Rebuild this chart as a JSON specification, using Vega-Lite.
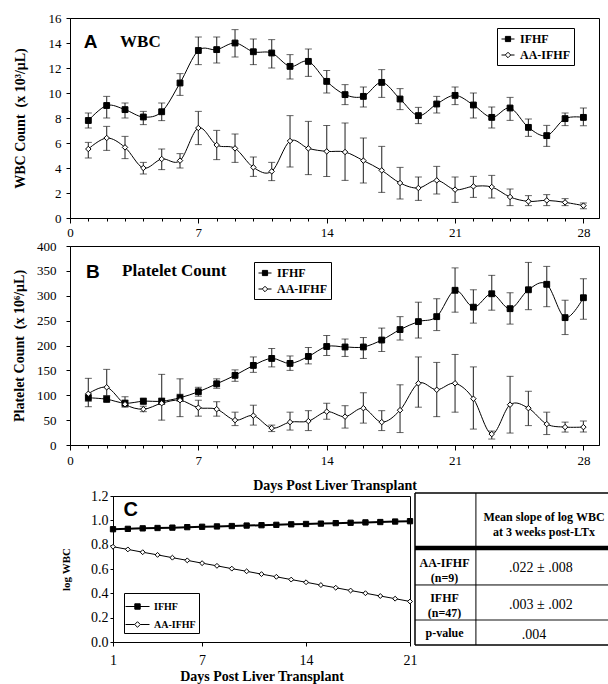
{
"$schema": "https://vega.github.io/schema/vega-lite/v6.json",
"padding": {"left": 12, "top": 11, "right": 0, "bottom": 0},
"autosize": {"type": "pad"},
"config": {
  "view": {"stroke": "black", "strokeWidth": 1},
  "font": "Liberation Serif",
  "axis": {"labelFont": "Liberation Serif", "titleFont": "Liberation Serif", "labelColor": "black", "titleColor": "black", "tickColor": "black", "domainColor": "black", "grid": false, "titleFontWeight": "bold", "labelFontSize": 13, "titleFontSize": 14, "tickSize": 4, "labelFlush": false, "labelOverlap": false},
  "legend": {"title": null, "orient": "none", "strokeColor": "black", "fillColor": "white", "labelFont": "Liberation Serif", "labelFontWeight": "bold", "labelColor": "black", "symbolStrokeColor": "black", "symbolStrokeWidth": 1, "symbolOpacity": 1}
},
"datasets": {
"wbc": [
{"day":1,"group":"IFHF","mean":7.8,"lo":7.2,"hi":8.4},
{"day":2,"group":"IFHF","mean":9.0,"lo":8.0,"hi":9.73},
{"day":3,"group":"IFHF","mean":8.67,"lo":8.0,"hi":9.2},
{"day":4,"group":"IFHF","mean":8.08,"lo":7.47,"hi":8.53},
{"day":5,"group":"IFHF","mean":8.5,"lo":7.79,"hi":9.2},
{"day":6,"group":"IFHF","mean":10.8,"lo":9.81,"hi":11.55},
{"day":7,"group":"IFHF","mean":13.4,"lo":12.27,"hi":14.48},
{"day":8,"group":"IFHF","mean":13.47,"lo":12.4,"hi":14.48},
{"day":9,"group":"IFHF","mean":14.0,"lo":12.88,"hi":15.07},
{"day":10,"group":"IFHF","mean":13.3,"lo":12.27,"hi":14.32},
{"day":11,"group":"IFHF","mean":13.2,"lo":12.0,"hi":14.27},
{"day":12,"group":"IFHF","mean":12.13,"lo":11.12,"hi":13.07},
{"day":13,"group":"IFHF","mean":12.53,"lo":11.33,"hi":13.52},
{"day":14,"group":"IFHF","mean":10.93,"lo":10.0,"hi":11.81},
{"day":15,"group":"IFHF","mean":9.87,"lo":9.07,"hi":10.67},
{"day":16,"group":"IFHF","mean":9.73,"lo":8.88,"hi":10.48},
{"day":17,"group":"IFHF","mean":10.85,"lo":9.65,"hi":11.87},
{"day":18,"group":"IFHF","mean":9.52,"lo":8.67,"hi":10.35},
{"day":19,"group":"IFHF","mean":8.19,"lo":7.55,"hi":8.85},
{"day":20,"group":"IFHF","mean":9.12,"lo":8.4,"hi":9.73},
{"day":21,"group":"IFHF","mean":9.81,"lo":9.07,"hi":10.48},
{"day":22,"group":"IFHF","mean":9.04,"lo":8.0,"hi":10.0},
{"day":23,"group":"IFHF","mean":8.05,"lo":7.2,"hi":8.88},
{"day":24,"group":"IFHF","mean":8.8,"lo":7.81,"hi":9.65},
{"day":25,"group":"IFHF","mean":7.25,"lo":6.53,"hi":7.92},
{"day":26,"group":"IFHF","mean":6.59,"lo":5.73,"hi":7.41},
{"day":27,"group":"IFHF","mean":7.95,"lo":7.39,"hi":8.4},
{"day":28,"group":"IFHF","mean":8.05,"lo":7.39,"hi":8.8},
{"day":1,"group":"AA-IFHF","mean":5.52,"lo":4.8,"hi":6.05},
{"day":2,"group":"AA-IFHF","mean":6.4,"lo":5.41,"hi":7.33},
{"day":3,"group":"AA-IFHF","mean":5.65,"lo":4.75,"hi":6.53},
{"day":4,"group":"AA-IFHF","mean":4.0,"lo":3.52,"hi":4.45},
{"day":5,"group":"AA-IFHF","mean":4.72,"lo":3.87,"hi":5.52},
{"day":6,"group":"AA-IFHF","mean":4.59,"lo":4.0,"hi":5.15},
{"day":7,"group":"AA-IFHF","mean":7.2,"lo":5.87,"hi":8.53},
{"day":8,"group":"AA-IFHF","mean":5.84,"lo":4.67,"hi":7.01},
{"day":9,"group":"AA-IFHF","mean":5.57,"lo":4.45,"hi":6.72},
{"day":10,"group":"AA-IFHF","mean":4.05,"lo":3.33,"hi":4.88},
{"day":11,"group":"AA-IFHF","mean":3.73,"lo":2.99,"hi":4.45},
{"day":12,"group":"AA-IFHF","mean":6.16,"lo":4.08,"hi":8.19},
{"day":13,"group":"AA-IFHF","mean":5.57,"lo":3.47,"hi":7.73},
{"day":14,"group":"AA-IFHF","mean":5.33,"lo":3.33,"hi":7.41},
{"day":15,"group":"AA-IFHF","mean":5.28,"lo":3.01,"hi":7.6},
{"day":16,"group":"AA-IFHF","mean":4.59,"lo":2.8,"hi":6.4},
{"day":17,"group":"AA-IFHF","mean":3.81,"lo":2.05,"hi":5.73},
{"day":18,"group":"AA-IFHF","mean":2.8,"lo":1.52,"hi":4.05},
{"day":19,"group":"AA-IFHF","mean":2.4,"lo":1.41,"hi":3.28},
{"day":20,"group":"AA-IFHF","mean":3.01,"lo":1.92,"hi":4.13},
{"day":21,"group":"AA-IFHF","mean":2.27,"lo":1.25,"hi":3.28},
{"day":22,"group":"AA-IFHF","mean":2.53,"lo":1.65,"hi":3.33},
{"day":23,"group":"AA-IFHF","mean":2.48,"lo":1.6,"hi":3.41},
{"day":24,"group":"AA-IFHF","mean":1.68,"lo":0.99,"hi":2.32},
{"day":25,"group":"AA-IFHF","mean":1.33,"lo":0.99,"hi":1.79},
{"day":26,"group":"AA-IFHF","mean":1.41,"lo":0.99,"hi":1.87},
{"day":27,"group":"AA-IFHF","mean":1.25,"lo":0.99,"hi":1.55},
{"day":28,"group":"AA-IFHF","mean":0.99,"lo":0.75,"hi":1.2}
],
"plt": [
{"day":1,"group":"IFHF","mean":95,"lo":88,"hi":102},
{"day":2,"group":"IFHF","mean":92,"lo":86,"hi":99},
{"day":3,"group":"IFHF","mean":84,"lo":76,"hi":97},
{"day":4,"group":"IFHF","mean":88,"lo":82,"hi":94},
{"day":5,"group":"IFHF","mean":88,"lo":82,"hi":94},
{"day":6,"group":"IFHF","mean":95,"lo":88,"hi":102},
{"day":7,"group":"IFHF","mean":107,"lo":98,"hi":116},
{"day":8,"group":"IFHF","mean":123,"lo":114,"hi":133},
{"day":9,"group":"IFHF","mean":140,"lo":128,"hi":151},
{"day":10,"group":"IFHF","mean":160,"lo":146,"hi":177},
{"day":11,"group":"IFHF","mean":174,"lo":157,"hi":194},
{"day":12,"group":"IFHF","mean":164,"lo":150,"hi":179},
{"day":13,"group":"IFHF","mean":178,"lo":163,"hi":196},
{"day":14,"group":"IFHF","mean":198,"lo":180,"hi":220},
{"day":15,"group":"IFHF","mean":197,"lo":178,"hi":213},
{"day":16,"group":"IFHF","mean":197,"lo":174,"hi":216},
{"day":17,"group":"IFHF","mean":211,"lo":188,"hi":235},
{"day":18,"group":"IFHF","mean":232,"lo":211,"hi":258},
{"day":19,"group":"IFHF","mean":248,"lo":215,"hi":287},
{"day":20,"group":"IFHF","mean":258,"lo":230,"hi":294},
{"day":21,"group":"IFHF","mean":311,"lo":267,"hi":356},
{"day":22,"group":"IFHF","mean":277,"lo":245,"hi":312},
{"day":23,"group":"IFHF","mean":304,"lo":271,"hi":341},
{"day":24,"group":"IFHF","mean":274,"lo":243,"hi":306},
{"day":25,"group":"IFHF","mean":312,"lo":272,"hi":367},
{"day":26,"group":"IFHF","mean":323,"lo":278,"hi":359},
{"day":27,"group":"IFHF","mean":256,"lo":222,"hi":291},
{"day":28,"group":"IFHF","mean":296,"lo":253,"hi":334},
{"day":1,"group":"AA-IFHF","mean":103,"lo":77,"hi":134},
{"day":2,"group":"AA-IFHF","mean":116,"lo":99,"hi":152},
{"day":3,"group":"AA-IFHF","mean":82,"lo":78,"hi":90},
{"day":4,"group":"AA-IFHF","mean":72,"lo":67,"hi":78},
{"day":5,"group":"AA-IFHF","mean":84,"lo":50,"hi":142},
{"day":6,"group":"AA-IFHF","mean":90,"lo":57,"hi":133},
{"day":7,"group":"AA-IFHF","mean":75,"lo":58,"hi":90},
{"day":8,"group":"AA-IFHF","mean":72,"lo":58,"hi":87},
{"day":9,"group":"AA-IFHF","mean":50,"lo":39,"hi":66},
{"day":10,"group":"AA-IFHF","mean":59,"lo":40,"hi":80},
{"day":11,"group":"AA-IFHF","mean":34,"lo":27,"hi":40},
{"day":12,"group":"AA-IFHF","mean":46,"lo":30,"hi":66},
{"day":13,"group":"AA-IFHF","mean":48,"lo":29,"hi":69},
{"day":14,"group":"AA-IFHF","mean":67,"lo":52,"hi":84},
{"day":15,"group":"AA-IFHF","mean":57,"lo":34,"hi":79},
{"day":16,"group":"AA-IFHF","mean":74,"lo":44,"hi":105},
{"day":17,"group":"AA-IFHF","mean":46,"lo":29,"hi":69},
{"day":18,"group":"AA-IFHF","mean":70,"lo":25,"hi":121},
{"day":19,"group":"AA-IFHF","mean":124,"lo":76,"hi":177},
{"day":20,"group":"AA-IFHF","mean":111,"lo":57,"hi":166},
{"day":21,"group":"AA-IFHF","mean":124,"lo":66,"hi":182},
{"day":22,"group":"AA-IFHF","mean":93,"lo":32,"hi":157},
{"day":23,"group":"AA-IFHF","mean":22,"lo":12,"hi":28},
{"day":24,"group":"AA-IFHF","mean":81,"lo":24,"hi":138},
{"day":25,"group":"AA-IFHF","mean":74,"lo":39,"hi":108},
{"day":26,"group":"AA-IFHF","mean":42,"lo":21,"hi":66},
{"day":27,"group":"AA-IFHF","mean":36,"lo":26,"hi":46},
{"day":28,"group":"AA-IFHF","mean":36,"lo":26,"hi":48}
],
"logwbc": [
{"day":1,"group":"IFHF","v":0.927},{"day":2,"group":"IFHF","v":0.930},{"day":3,"group":"IFHF","v":0.934},{"day":4,"group":"IFHF","v":0.937},{"day":5,"group":"IFHF","v":0.940},{"day":6,"group":"IFHF","v":0.944},{"day":7,"group":"IFHF","v":0.947},{"day":8,"group":"IFHF","v":0.950},{"day":9,"group":"IFHF","v":0.953},{"day":10,"group":"IFHF","v":0.957},{"day":11,"group":"IFHF","v":0.960},{"day":12,"group":"IFHF","v":0.963},{"day":13,"group":"IFHF","v":0.967},{"day":14,"group":"IFHF","v":0.970},{"day":15,"group":"IFHF","v":0.973},{"day":16,"group":"IFHF","v":0.977},{"day":17,"group":"IFHF","v":0.980},{"day":18,"group":"IFHF","v":0.983},{"day":19,"group":"IFHF","v":0.986},{"day":20,"group":"IFHF","v":0.990},{"day":21,"group":"IFHF","v":0.993},
{"day":1,"group":"AA-IFHF","v":0.783},{"day":2,"group":"AA-IFHF","v":0.761},{"day":3,"group":"AA-IFHF","v":0.738},{"day":4,"group":"AA-IFHF","v":0.716},{"day":5,"group":"AA-IFHF","v":0.693},{"day":6,"group":"AA-IFHF","v":0.671},{"day":7,"group":"AA-IFHF","v":0.648},{"day":8,"group":"AA-IFHF","v":0.626},{"day":9,"group":"AA-IFHF","v":0.603},{"day":10,"group":"AA-IFHF","v":0.581},{"day":11,"group":"AA-IFHF","v":0.558},{"day":12,"group":"AA-IFHF","v":0.536},{"day":13,"group":"AA-IFHF","v":0.513},{"day":14,"group":"AA-IFHF","v":0.491},{"day":15,"group":"AA-IFHF","v":0.468},{"day":16,"group":"AA-IFHF","v":0.446},{"day":17,"group":"AA-IFHF","v":0.423},{"day":18,"group":"AA-IFHF","v":0.401},{"day":19,"group":"AA-IFHF","v":0.378},{"day":20,"group":"AA-IFHF","v":0.356},{"day":21,"group":"AA-IFHF","v":0.333}
],
"table": [
{"kind":"label","x":0.665,"y":0.842,"text":"Mean slope of log WBC"},
{"kind":"label","x":0.665,"y":0.743,"text":"at 3 weeks post-LTx"},
{"kind":"label","x":0.152,"y":0.539,"text":"AA-IFHF"},
{"kind":"label","x":0.152,"y":0.441,"text":"(n=9)"},
{"kind":"label","x":0.152,"y":0.309,"text":"IFHF"},
{"kind":"label","x":0.152,"y":0.211,"text":"(n=47)"},
{"kind":"label","x":0.152,"y":0.079,"text":"p-value"},
{"kind":"value","x":0.649,"y":0.507,"text":".022 ± .008"},
{"kind":"value","x":0.649,"y":0.263,"text":".003 ± .002"},
{"kind":"value","x":0.613,"y":0.066,"text":".004"}
],
"lblA": [{"t": "A"}], "lblWBC": [{"t": "WBC"}], "lblB": [{"t": "B"}], "lblPlt": [{"t": "Platelet Count"}], "lblC": [{"t": "C"}]
},
"bounds": "flush",
"spacing": 28,
"resolve": {"scale": {"shape": "independent", "fill": "independent", "stroke": "independent"}},
"vconcat": [
 {
  "width": 529, "height": 200,
  "data": {"name": "wbc"},
  "layer": [
   {"mark": {"type": "rule", "color": "#444", "strokeWidth": 1.2}, "encoding": {
     "x": {"field": "day", "type": "quantitative", "scale": {"domain": [0, 28.85], "nice": false, "zero": false}, "axis": {"values": [0,1,2,3,4,5,6,7,8,9,10,11,12,13,14,15,16,17,18,19,20,21,22,23,24,25,26,27,28], "labelExpr": "datum.value % 7 === 0 ? datum.label : ''", "tickSize": {"condition": {"test": "datum.value % 7 === 0", "value": 5}, "value": 3}, "labelPadding": 3, "title": null}},
     "y": {"field": "lo", "type": "quantitative", "scale": {"domain": [0, 16], "nice": false}, "axis": {"values": [0,2,4,6,8,10,12,14,16], "labelPadding": 5, "titlePadding": 21, "title": "WBC Count\u00a0 (x 10³/μL)"}},
     "y2": {"field": "hi"}}},
   {"mark": {"type": "tick", "orient": "horizontal", "size": 7, "thickness": 1, "color": "#222"}, "encoding": {
     "x": {"field": "day", "type": "quantitative", "scale": {"domain": [0, 28.85], "nice": false, "zero": false}, "axis": {"values": [0,1,2,3,4,5,6,7,8,9,10,11,12,13,14,15,16,17,18,19,20,21,22,23,24,25,26,27,28], "labelExpr": "datum.value % 7 === 0 ? datum.label : ''", "tickSize": {"condition": {"test": "datum.value % 7 === 0", "value": 5}, "value": 3}, "labelPadding": 3, "title": null}},
     "y": {"field": "lo", "type": "quantitative", "scale": {"domain": [0, 16], "nice": false}, "axis": {"values": [0,2,4,6,8,10,12,14,16], "labelPadding": 5, "titlePadding": 21, "title": "WBC Count\u00a0 (x 10³/μL)"}}}},
   {"mark": {"type": "tick", "orient": "horizontal", "size": 7, "thickness": 1, "color": "#222"}, "encoding": {
     "x": {"field": "day", "type": "quantitative", "scale": {"domain": [0, 28.85], "nice": false, "zero": false}, "axis": {"values": [0,1,2,3,4,5,6,7,8,9,10,11,12,13,14,15,16,17,18,19,20,21,22,23,24,25,26,27,28], "labelExpr": "datum.value % 7 === 0 ? datum.label : ''", "tickSize": {"condition": {"test": "datum.value % 7 === 0", "value": 5}, "value": 3}, "labelPadding": 3, "title": null}},
     "y": {"field": "hi", "type": "quantitative", "scale": {"domain": [0, 16], "nice": false}, "axis": {"values": [0,2,4,6,8,10,12,14,16], "labelPadding": 5, "titlePadding": 21, "title": "WBC Count\u00a0 (x 10³/μL)"}}}},
   {"mark": {"type": "line", "interpolate": "cardinal", "color": "black", "strokeWidth": 1}, "encoding": {
     "x": {"field": "day", "type": "quantitative", "scale": {"domain": [0, 28.85], "nice": false, "zero": false}, "axis": {"values": [0,1,2,3,4,5,6,7,8,9,10,11,12,13,14,15,16,17,18,19,20,21,22,23,24,25,26,27,28], "labelExpr": "datum.value % 7 === 0 ? datum.label : ''", "tickSize": {"condition": {"test": "datum.value % 7 === 0", "value": 5}, "value": 3}, "labelPadding": 3, "title": null}},
     "y": {"field": "mean", "type": "quantitative", "scale": {"domain": [0, 16], "nice": false}, "axis": {"values": [0,2,4,6,8,10,12,14,16], "labelPadding": 5, "titlePadding": 21, "title": "WBC Count\u00a0 (x 10³/μL)"}},
     "detail": {"field": "group"}}},
   {"transform": [{"filter": "datum.group === 'IFHF'"}], "mark": {"type": "point", "shape": "square", "filled": true, "fill": "black", "stroke": "black", "strokeWidth": 1, "opacity": 1, "size": 34}, "encoding": {
     "x": {"field": "day", "type": "quantitative", "scale": {"domain": [0, 28.85], "nice": false, "zero": false}, "axis": {"values": [0,1,2,3,4,5,6,7,8,9,10,11,12,13,14,15,16,17,18,19,20,21,22,23,24,25,26,27,28], "labelExpr": "datum.value % 7 === 0 ? datum.label : ''", "tickSize": {"condition": {"test": "datum.value % 7 === 0", "value": 5}, "value": 3}, "labelPadding": 3, "title": null}},
     "y": {"field": "mean", "type": "quantitative", "scale": {"domain": [0, 16], "nice": false}, "axis": {"values": [0,2,4,6,8,10,12,14,16], "labelPadding": 5, "titlePadding": 21, "title": "WBC Count\u00a0 (x 10³/μL)"}}}},
   {"transform": [{"filter": "datum.group === 'AA-IFHF'"}], "mark": {"type": "point", "shape": "diamond", "filled": true, "fill": "white", "stroke": "black", "strokeWidth": 1, "opacity": 1, "size": 30}, "encoding": {
     "x": {"field": "day", "type": "quantitative", "scale": {"domain": [0, 28.85], "nice": false, "zero": false}, "axis": {"values": [0,1,2,3,4,5,6,7,8,9,10,11,12,13,14,15,16,17,18,19,20,21,22,23,24,25,26,27,28], "labelExpr": "datum.value % 7 === 0 ? datum.label : ''", "tickSize": {"condition": {"test": "datum.value % 7 === 0", "value": 5}, "value": 3}, "labelPadding": 3, "title": null}},
     "y": {"field": "mean", "type": "quantitative", "scale": {"domain": [0, 16], "nice": false}, "axis": {"values": [0,2,4,6,8,10,12,14,16], "labelPadding": 5, "titlePadding": 21, "title": "WBC Count\u00a0 (x 10³/μL)"}}}},
   {"mark": {"type": "point", "filled": false, "stroke": "black", "strokeWidth": 1, "opacity": 0}, "encoding": {
     "x": {"field": "day", "type": "quantitative", "scale": {"domain": [0, 28.85], "nice": false, "zero": false}, "axis": {"values": [0,1,2,3,4,5,6,7,8,9,10,11,12,13,14,15,16,17,18,19,20,21,22,23,24,25,26,27,28], "labelExpr": "datum.value % 7 === 0 ? datum.label : ''", "tickSize": {"condition": {"test": "datum.value % 7 === 0", "value": 5}, "value": 3}, "labelPadding": 3, "title": null}},
     "y": {"field": "mean", "type": "quantitative", "scale": {"domain": [0, 16], "nice": false}, "axis": {"values": [0,2,4,6,8,10,12,14,16], "labelPadding": 5, "titlePadding": 21, "title": "WBC Count\u00a0 (x 10³/μL)"}},
     "shape": {"field": "group", "type": "nominal", "scale": {"domain": ["IFHF", "AA-IFHF"], "range": ["M-1,0H1M-0.4,-0.4H0.4V0.4H-0.4Z", "M-1,0H-0.42M0.42,0H1M0,-0.42L0.42,0L0,0.42L-0.42,0Z"]},
       "legend": {"legendX": 427, "legendY": 10, "padding": 4, "labelFontSize": 12, "symbolSize": 169, "rowPadding": 3, "labelOffset": 5, "symbolOpacity": 1, "symbolStrokeWidth": 1}},
     "fill": {"field": "group", "type": "nominal", "scale": {"domain": ["IFHF", "AA-IFHF"], "range": ["black", "white"]},
       "legend": {"legendX": 427, "legendY": 10, "padding": 4, "labelFontSize": 12, "symbolSize": 169, "rowPadding": 3, "labelOffset": 5, "symbolOpacity": 1, "symbolStrokeWidth": 1}},
     "stroke": {"field": "group", "type": "nominal", "scale": {"domain": ["IFHF", "AA-IFHF"], "range": ["black", "black"]},
       "legend": {"legendX": 427, "legendY": 10, "padding": 4, "labelFontSize": 12, "symbolSize": 169, "rowPadding": 3, "labelOffset": 5, "symbolOpacity": 1, "symbolStrokeWidth": 1}}}},
   {"data": {"name": "lblA"}, "mark": {"type": "text", "font": "Liberation Sans", "fontWeight": "bold", "fontSize": 19, "align": "center", "baseline": "middle", "color": "black"}, "encoding": {
     "x": {"datum": 1.12, "type": "quantitative", "scale": {"domain": [0, 28.85], "nice": false, "zero": false}, "axis": {"values": [0,1,2,3,4,5,6,7,8,9,10,11,12,13,14,15,16,17,18,19,20,21,22,23,24,25,26,27,28], "labelExpr": "datum.value % 7 === 0 ? datum.label : ''", "tickSize": {"condition": {"test": "datum.value % 7 === 0", "value": 5}, "value": 3}, "labelPadding": 3, "title": null}},
     "y": {"datum": 14.1, "type": "quantitative", "scale": {"domain": [0, 16], "nice": false}, "axis": {"values": [0,2,4,6,8,10,12,14,16], "labelPadding": 5, "titlePadding": 21, "title": "WBC Count\u00a0 (x 10³/μL)"}},
     "text": {"field": "t"}}},
   {"data": {"name": "lblWBC"}, "mark": {"type": "text", "font": "Liberation Serif", "fontWeight": "bold", "fontSize": 17, "align": "left", "baseline": "middle", "color": "black"}, "encoding": {
     "x": {"datum": 2.73, "type": "quantitative", "scale": {"domain": [0, 28.85], "nice": false, "zero": false}, "axis": {"values": [0,1,2,3,4,5,6,7,8,9,10,11,12,13,14,15,16,17,18,19,20,21,22,23,24,25,26,27,28], "labelExpr": "datum.value % 7 === 0 ? datum.label : ''", "tickSize": {"condition": {"test": "datum.value % 7 === 0", "value": 5}, "value": 3}, "labelPadding": 3, "title": null}},
     "y": {"datum": 14.1, "type": "quantitative", "scale": {"domain": [0, 16], "nice": false}, "axis": {"values": [0,2,4,6,8,10,12,14,16], "labelPadding": 5, "titlePadding": 21, "title": "WBC Count\u00a0 (x 10³/μL)"}},
     "text": {"field": "t"}}}
  ]
 },
 {
  "width": 529, "height": 199,
  "data": {"name": "plt"},
  "layer": [
   {"mark": {"type": "rule", "color": "#444", "strokeWidth": 1.2}, "encoding": {
     "x": {"field": "day", "type": "quantitative", "scale": {"domain": [0, 28.85], "nice": false, "zero": false}, "axis": {"values": [0,1,2,3,4,5,6,7,8,9,10,11,12,13,14,15,16,17,18,19,20,21,22,23,24,25,26,27,28], "labelExpr": "datum.value % 7 === 0 ? datum.label : ''", "tickSize": {"condition": {"test": "datum.value % 7 === 0", "value": 5}, "value": 3}, "labelPadding": 4, "titlePadding": 11, "title": "Days Post Liver Transplant"}},
     "y": {"field": "lo", "type": "quantitative", "scale": {"domain": [0, 400], "nice": false}, "axis": {"values": [0,50,100,150,200,250,300,350,400], "labelPadding": 10, "titlePadding": 10, "title": "Platelet Count\u00a0 (x 10⁶/μL)"}},
     "y2": {"field": "hi"}}},
   {"mark": {"type": "tick", "orient": "horizontal", "size": 7, "thickness": 1, "color": "#222"}, "encoding": {
     "x": {"field": "day", "type": "quantitative", "scale": {"domain": [0, 28.85], "nice": false, "zero": false}, "axis": {"values": [0,1,2,3,4,5,6,7,8,9,10,11,12,13,14,15,16,17,18,19,20,21,22,23,24,25,26,27,28], "labelExpr": "datum.value % 7 === 0 ? datum.label : ''", "tickSize": {"condition": {"test": "datum.value % 7 === 0", "value": 5}, "value": 3}, "labelPadding": 4, "titlePadding": 11, "title": "Days Post Liver Transplant"}},
     "y": {"field": "lo", "type": "quantitative", "scale": {"domain": [0, 400], "nice": false}, "axis": {"values": [0,50,100,150,200,250,300,350,400], "labelPadding": 10, "titlePadding": 10, "title": "Platelet Count\u00a0 (x 10⁶/μL)"}}}},
   {"mark": {"type": "tick", "orient": "horizontal", "size": 7, "thickness": 1, "color": "#222"}, "encoding": {
     "x": {"field": "day", "type": "quantitative", "scale": {"domain": [0, 28.85], "nice": false, "zero": false}, "axis": {"values": [0,1,2,3,4,5,6,7,8,9,10,11,12,13,14,15,16,17,18,19,20,21,22,23,24,25,26,27,28], "labelExpr": "datum.value % 7 === 0 ? datum.label : ''", "tickSize": {"condition": {"test": "datum.value % 7 === 0", "value": 5}, "value": 3}, "labelPadding": 4, "titlePadding": 11, "title": "Days Post Liver Transplant"}},
     "y": {"field": "hi", "type": "quantitative", "scale": {"domain": [0, 400], "nice": false}, "axis": {"values": [0,50,100,150,200,250,300,350,400], "labelPadding": 10, "titlePadding": 10, "title": "Platelet Count\u00a0 (x 10⁶/μL)"}}}},
   {"mark": {"type": "line", "interpolate": "cardinal", "color": "black", "strokeWidth": 1}, "encoding": {
     "x": {"field": "day", "type": "quantitative", "scale": {"domain": [0, 28.85], "nice": false, "zero": false}, "axis": {"values": [0,1,2,3,4,5,6,7,8,9,10,11,12,13,14,15,16,17,18,19,20,21,22,23,24,25,26,27,28], "labelExpr": "datum.value % 7 === 0 ? datum.label : ''", "tickSize": {"condition": {"test": "datum.value % 7 === 0", "value": 5}, "value": 3}, "labelPadding": 4, "titlePadding": 11, "title": "Days Post Liver Transplant"}},
     "y": {"field": "mean", "type": "quantitative", "scale": {"domain": [0, 400], "nice": false}, "axis": {"values": [0,50,100,150,200,250,300,350,400], "labelPadding": 10, "titlePadding": 10, "title": "Platelet Count\u00a0 (x 10⁶/μL)"}},
     "detail": {"field": "group"}}},
   {"transform": [{"filter": "datum.group === 'IFHF'"}], "mark": {"type": "point", "shape": "square", "filled": true, "fill": "black", "stroke": "black", "strokeWidth": 1, "opacity": 1, "size": 34}, "encoding": {
     "x": {"field": "day", "type": "quantitative", "scale": {"domain": [0, 28.85], "nice": false, "zero": false}, "axis": {"values": [0,1,2,3,4,5,6,7,8,9,10,11,12,13,14,15,16,17,18,19,20,21,22,23,24,25,26,27,28], "labelExpr": "datum.value % 7 === 0 ? datum.label : ''", "tickSize": {"condition": {"test": "datum.value % 7 === 0", "value": 5}, "value": 3}, "labelPadding": 4, "titlePadding": 11, "title": "Days Post Liver Transplant"}},
     "y": {"field": "mean", "type": "quantitative", "scale": {"domain": [0, 400], "nice": false}, "axis": {"values": [0,50,100,150,200,250,300,350,400], "labelPadding": 10, "titlePadding": 10, "title": "Platelet Count\u00a0 (x 10⁶/μL)"}}}},
   {"transform": [{"filter": "datum.group === 'AA-IFHF'"}], "mark": {"type": "point", "shape": "diamond", "filled": true, "fill": "white", "stroke": "black", "strokeWidth": 1, "opacity": 1, "size": 30}, "encoding": {
     "x": {"field": "day", "type": "quantitative", "scale": {"domain": [0, 28.85], "nice": false, "zero": false}, "axis": {"values": [0,1,2,3,4,5,6,7,8,9,10,11,12,13,14,15,16,17,18,19,20,21,22,23,24,25,26,27,28], "labelExpr": "datum.value % 7 === 0 ? datum.label : ''", "tickSize": {"condition": {"test": "datum.value % 7 === 0", "value": 5}, "value": 3}, "labelPadding": 4, "titlePadding": 11, "title": "Days Post Liver Transplant"}},
     "y": {"field": "mean", "type": "quantitative", "scale": {"domain": [0, 400], "nice": false}, "axis": {"values": [0,50,100,150,200,250,300,350,400], "labelPadding": 10, "titlePadding": 10, "title": "Platelet Count\u00a0 (x 10⁶/μL)"}}}},
   {"mark": {"type": "point", "filled": false, "stroke": "black", "strokeWidth": 1, "opacity": 0}, "encoding": {
     "x": {"field": "day", "type": "quantitative", "scale": {"domain": [0, 28.85], "nice": false, "zero": false}, "axis": {"values": [0,1,2,3,4,5,6,7,8,9,10,11,12,13,14,15,16,17,18,19,20,21,22,23,24,25,26,27,28], "labelExpr": "datum.value % 7 === 0 ? datum.label : ''", "tickSize": {"condition": {"test": "datum.value % 7 === 0", "value": 5}, "value": 3}, "labelPadding": 4, "titlePadding": 11, "title": "Days Post Liver Transplant"}},
     "y": {"field": "mean", "type": "quantitative", "scale": {"domain": [0, 400], "nice": false}, "axis": {"values": [0,50,100,150,200,250,300,350,400], "labelPadding": 10, "titlePadding": 10, "title": "Platelet Count\u00a0 (x 10⁶/μL)"}},
     "shape": {"field": "group", "type": "nominal", "scale": {"domain": ["IFHF", "AA-IFHF"], "range": ["M-1,0H1M-0.4,-0.4H0.4V0.4H-0.4Z", "M-1,0H-0.42M0.42,0H1M0,-0.42L0.42,0L0,0.42L-0.42,0Z"]},
       "legend": {"legendX": 184, "legendY": 16, "padding": 4, "labelFontSize": 12, "symbolSize": 169, "rowPadding": 3, "labelOffset": 5, "symbolOpacity": 1, "symbolStrokeWidth": 1}},
     "fill": {"field": "group", "type": "nominal", "scale": {"domain": ["IFHF", "AA-IFHF"], "range": ["black", "white"]},
       "legend": {"legendX": 184, "legendY": 16, "padding": 4, "labelFontSize": 12, "symbolSize": 169, "rowPadding": 3, "labelOffset": 5, "symbolOpacity": 1, "symbolStrokeWidth": 1}},
     "stroke": {"field": "group", "type": "nominal", "scale": {"domain": ["IFHF", "AA-IFHF"], "range": ["black", "black"]},
       "legend": {"legendX": 184, "legendY": 16, "padding": 4, "labelFontSize": 12, "symbolSize": 169, "rowPadding": 3, "labelOffset": 5, "symbolOpacity": 1, "symbolStrokeWidth": 1}}}},
   {"data": {"name": "lblB"}, "mark": {"type": "text", "font": "Liberation Sans", "fontWeight": "bold", "fontSize": 19, "align": "center", "baseline": "middle", "color": "black"}, "encoding": {
     "x": {"datum": 1.25, "type": "quantitative", "scale": {"domain": [0, 28.85], "nice": false, "zero": false}, "axis": {"values": [0,1,2,3,4,5,6,7,8,9,10,11,12,13,14,15,16,17,18,19,20,21,22,23,24,25,26,27,28], "labelExpr": "datum.value % 7 === 0 ? datum.label : ''", "tickSize": {"condition": {"test": "datum.value % 7 === 0", "value": 5}, "value": 3}, "labelPadding": 4, "titlePadding": 11, "title": "Days Post Liver Transplant"}},
     "y": {"datum": 348, "type": "quantitative", "scale": {"domain": [0, 400], "nice": false}, "axis": {"values": [0,50,100,150,200,250,300,350,400], "labelPadding": 10, "titlePadding": 10, "title": "Platelet Count\u00a0 (x 10⁶/μL)"}},
     "text": {"field": "t"}}},
   {"data": {"name": "lblPlt"}, "mark": {"type": "text", "font": "Liberation Serif", "fontWeight": "bold", "fontSize": 17, "align": "left", "baseline": "middle", "color": "black"}, "encoding": {
     "x": {"datum": 2.84, "type": "quantitative", "scale": {"domain": [0, 28.85], "nice": false, "zero": false}, "axis": {"values": [0,1,2,3,4,5,6,7,8,9,10,11,12,13,14,15,16,17,18,19,20,21,22,23,24,25,26,27,28], "labelExpr": "datum.value % 7 === 0 ? datum.label : ''", "tickSize": {"condition": {"test": "datum.value % 7 === 0", "value": 5}, "value": 3}, "labelPadding": 4, "titlePadding": 11, "title": "Days Post Liver Transplant"}},
     "y": {"datum": 350, "type": "quantitative", "scale": {"domain": [0, 400], "nice": false}, "axis": {"values": [0,50,100,150,200,250,300,350,400], "labelPadding": 10, "titlePadding": 10, "title": "Platelet Count\u00a0 (x 10⁶/μL)"}},
     "text": {"field": "t"}}}
  ]
 },
 {
  "bounds": "flush",
  "spacing": 5,
  "center": true,
  "resolve": {"scale": {"shape": "independent", "fill": "independent", "stroke": "independent"}},
  "hconcat": [
   {"width": 38, "height": 192, "view": {"stroke": null}, "data": {"values": [{}]}, "mark": {"type": "point", "opacity": 0}, "encoding": {}},
   {
    "width": 297, "height": 146,
    "data": {"name": "logwbc"},
    "layer": [
     {"transform": [{"filter": "datum.group === 'IFHF'"}], "mark": {"type": "line", "color": "black", "strokeWidth": 2}, "encoding": {
       "x": {"field": "day", "type": "quantitative", "scale": {"domain": [1, 21], "nice": false, "zero": false}, "axis": {"values": [1, 7, 14, 21], "labelFontSize": 14, "labelPadding": 7, "titlePadding": 2, "title": "Days Post Liver Transplant"}},
       "y": {"field": "v", "type": "quantitative", "scale": {"domain": [0, 1.2], "nice": false}, "axis": {"values": [0, 0.2, 0.4, 0.6, 0.8, 1.0, 1.2], "format": ".1f", "titleFontSize": 11, "labelFontSize": 14, "tickSize": 3, "labelPadding": 2, "titlePadding": 19, "title": "log WBC"}}}},
     {"transform": [{"filter": "datum.group === 'AA-IFHF'"}], "mark": {"type": "line", "color": "black", "strokeWidth": 1}, "encoding": {
       "x": {"field": "day", "type": "quantitative", "scale": {"domain": [1, 21], "nice": false, "zero": false}, "axis": {"values": [1, 7, 14, 21], "labelFontSize": 14, "labelPadding": 7, "titlePadding": 2, "title": "Days Post Liver Transplant"}},
       "y": {"field": "v", "type": "quantitative", "scale": {"domain": [0, 1.2], "nice": false}, "axis": {"values": [0, 0.2, 0.4, 0.6, 0.8, 1.0, 1.2], "format": ".1f", "titleFontSize": 11, "labelFontSize": 14, "tickSize": 3, "labelPadding": 2, "titlePadding": 19, "title": "log WBC"}}}},
     {"transform": [{"filter": "datum.group === 'IFHF'"}], "mark": {"type": "point", "shape": "square", "filled": true, "fill": "black", "stroke": "black", "strokeWidth": 1, "opacity": 1, "size": 28}, "encoding": {
       "x": {"field": "day", "type": "quantitative", "scale": {"domain": [1, 21], "nice": false, "zero": false}, "axis": {"values": [1, 7, 14, 21], "labelFontSize": 14, "labelPadding": 7, "titlePadding": 2, "title": "Days Post Liver Transplant"}},
       "y": {"field": "v", "type": "quantitative", "scale": {"domain": [0, 1.2], "nice": false}, "axis": {"values": [0, 0.2, 0.4, 0.6, 0.8, 1.0, 1.2], "format": ".1f", "titleFontSize": 11, "labelFontSize": 14, "tickSize": 3, "labelPadding": 2, "titlePadding": 19, "title": "log WBC"}}}},
     {"transform": [{"filter": "datum.group === 'AA-IFHF'"}], "mark": {"type": "point", "shape": "diamond", "filled": true, "fill": "white", "stroke": "black", "strokeWidth": 1, "opacity": 1, "size": 24}, "encoding": {
       "x": {"field": "day", "type": "quantitative", "scale": {"domain": [1, 21], "nice": false, "zero": false}, "axis": {"values": [1, 7, 14, 21], "labelFontSize": 14, "labelPadding": 7, "titlePadding": 2, "title": "Days Post Liver Transplant"}},
       "y": {"field": "v", "type": "quantitative", "scale": {"domain": [0, 1.2], "nice": false}, "axis": {"values": [0, 0.2, 0.4, 0.6, 0.8, 1.0, 1.2], "format": ".1f", "titleFontSize": 11, "labelFontSize": 14, "tickSize": 3, "labelPadding": 2, "titlePadding": 19, "title": "log WBC"}}}},
     {"mark": {"type": "point", "filled": false, "stroke": "black", "strokeWidth": 1, "opacity": 0}, "encoding": {
       "x": {"field": "day", "type": "quantitative", "scale": {"domain": [1, 21], "nice": false, "zero": false}, "axis": {"values": [1, 7, 14, 21], "labelFontSize": 14, "labelPadding": 7, "titlePadding": 2, "title": "Days Post Liver Transplant"}},
       "y": {"field": "v", "type": "quantitative", "scale": {"domain": [0, 1.2], "nice": false}, "axis": {"values": [0, 0.2, 0.4, 0.6, 0.8, 1.0, 1.2], "format": ".1f", "titleFontSize": 11, "labelFontSize": 14, "tickSize": 3, "labelPadding": 2, "titlePadding": 19, "title": "log WBC"}},
       "shape": {"field": "group", "type": "nominal", "scale": {"domain": ["IFHF", "AA-IFHF"], "range": ["M-1.2,0H1.2M-0.27,-0.27H0.27V0.27H-0.27Z", "M-1.2,0H-0.28M0.28,0H1.2M0,-0.28L0.28,0L0,0.28L-0.28,0Z"]},
        "legend": {"legendX": 11, "legendY": 97, "padding": 3, "labelFontSize": 10, "symbolSize": 400, "rowPadding": 2, "labelOffset": 6, "symbolOpacity": 1, "symbolStrokeWidth": 1}},
       "fill": {"field": "group", "type": "nominal", "scale": {"domain": ["IFHF", "AA-IFHF"], "range": ["black", "white"]},
        "legend": {"legendX": 11, "legendY": 97, "padding": 3, "labelFontSize": 10, "symbolSize": 400, "rowPadding": 2, "labelOffset": 6, "symbolOpacity": 1, "symbolStrokeWidth": 1}},
       "stroke": {"field": "group", "type": "nominal", "scale": {"domain": ["IFHF", "AA-IFHF"], "range": ["black", "black"]},
        "legend": {"legendX": 11, "legendY": 97, "padding": 3, "labelFontSize": 10, "symbolSize": 400, "rowPadding": 2, "labelOffset": 6, "symbolOpacity": 1, "symbolStrokeWidth": 1}}}},
     {"data": {"name": "lblC"}, "mark": {"type": "text", "font": "Liberation Sans", "fontWeight": "bold", "fontSize": 20, "align": "center", "baseline": "middle", "color": "black"}, "encoding": {
       "x": {"datum": 2.2, "type": "quantitative", "scale": {"domain": [1, 21], "nice": false, "zero": false}, "axis": {"values": [1, 7, 14, 21], "labelFontSize": 14, "labelPadding": 7, "titlePadding": 2, "title": "Days Post Liver Transplant"}},
       "y": {"datum": 1.085, "type": "quantitative", "scale": {"domain": [0, 1.2], "nice": false}, "axis": {"values": [0, 0.2, 0.4, 0.6, 0.8, 1.0, 1.2], "format": ".1f", "titleFontSize": 11, "labelFontSize": 14, "tickSize": 3, "labelPadding": 2, "titlePadding": 19, "title": "log WBC"}},
       "text": {"field": "t"}}}
    ]
   },
   {
    "width": 194, "height": 152,
    "view": {"stroke": null},
    "data": {"name": "table"},
    "layer": [
     {"transform": [{"filter": "datum.kind === 'label'"}], "mark": {"type": "text", "font": "Liberation Serif", "fontWeight": "bold", "fontSize": 12, "align": "center", "baseline": "middle", "color": "black"},
      "encoding": {"x": {"field": "x", "type": "quantitative", "scale": {"domain": [0, 1]}, "axis": null}, "y": {"field": "y", "type": "quantitative", "scale": {"domain": [0, 1]}, "axis": null}, "text": {"field": "text"}}},
     {"transform": [{"filter": "datum.kind === 'value'"}], "mark": {"type": "text", "font": "Liberation Serif", "fontSize": 14, "align": "center", "baseline": "middle", "color": "black"},
      "encoding": {"x": {"field": "x", "type": "quantitative", "axis": null}, "y": {"field": "y", "type": "quantitative", "axis": null}, "text": {"field": "text"}}},
     {"data": {"values": [{}]}, "mark": {"type": "rule", "color": "black", "strokeWidth": 1.5}, "encoding": {"y": {"datum": 1}}},
     {"data": {"values": [{}]}, "mark": {"type": "rule", "color": "black", "strokeWidth": 1.5}, "encoding": {"y": {"datum": 0}}},
     {"data": {"values": [{}]}, "mark": {"type": "rule", "color": "black", "strokeWidth": 4.5}, "encoding": {"y": {"datum": 0.638}}},
     {"data": {"values": [{}]}, "mark": {"type": "rule", "color": "black", "strokeWidth": 1}, "encoding": {"y": {"datum": 0.395}}},
     {"data": {"values": [{}]}, "mark": {"type": "rule", "color": "#888", "strokeWidth": 2}, "encoding": {"y": {"datum": 0.164}}},
     {"data": {"values": [{}]}, "mark": {"type": "rule", "color": "black", "strokeWidth": 1.5}, "encoding": {"x": {"datum": 0}}},
     {"data": {"values": [{}]}, "mark": {"type": "rule", "color": "black", "strokeWidth": 1}, "encoding": {"x": {"datum": 0.314}}}
    ]
   }
  ]
 }
]
}
